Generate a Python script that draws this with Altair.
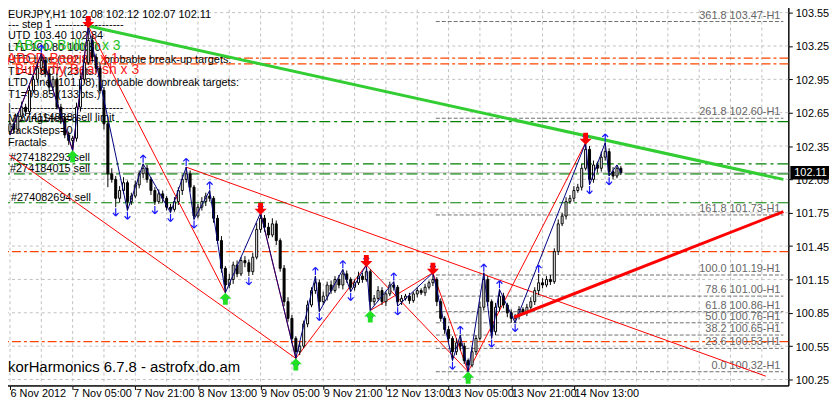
import altair as alt
import pandas as pd

# ---------------- data ----------------
first_open = 102.48
closes = [
    102.55, 102.50, 102.62, 102.70, 102.66, 102.85, 102.95, 103.05, 103.12, 103.00,
    102.88, 102.95, 102.70, 102.60, 102.45, 102.40, 102.42, 102.70, 102.95, 103.10,
    103.30, 103.15, 103.05, 102.85, 102.55, 102.10, 102.05, 101.88, 101.95, 102.02,
    101.85, 101.90, 102.00, 102.10, 102.15, 102.05, 101.95, 101.85, 101.92, 101.88,
    101.80, 101.78, 101.85, 101.95, 102.05, 102.10, 101.98, 101.72, 101.80, 101.85,
    101.90, 101.88, 101.70, 101.50, 101.25, 101.10, 101.15, 101.28, 101.20, 101.32,
    101.30, 101.22, 101.35, 101.60, 101.70, 101.62, 101.55, 101.65, 101.50, 101.25,
    100.95, 100.80, 100.62, 100.50, 100.55, 100.75, 100.92, 101.05, 101.12, 100.95,
    101.00, 101.10, 101.05, 101.15, 101.10, 101.20, 101.15, 101.08, 101.12, 101.18,
    101.15, 101.22, 100.95, 100.98, 101.05, 100.95, 101.02, 101.10, 101.08, 100.95,
    100.98, 101.00, 100.96, 101.02, 101.05, 101.03, 101.08, 101.12, 101.15, 100.95,
    100.80, 100.70, 100.62, 100.50, 100.58, 100.55, 100.42, 100.38, 100.50, 100.62,
    100.90, 101.15, 100.95, 100.68, 100.90, 101.00, 100.92, 100.85, 100.80, 100.82,
    100.88, 100.85, 100.90, 100.95, 101.05, 101.12, 101.10, 101.15, 101.13, 101.40,
    101.65, 101.72, 101.85, 101.88, 101.95, 101.98, 102.15, 102.32, 102.05, 102.18,
    102.15, 102.25, 102.30, 102.12, 102.08, 102.15, 102.11]
upper_wick_pips = [
    3, 4, 3, 5, 3, 4, 3, 4, 6, 3,
    4, 3, 5, 3, 4, 3, 2, 4, 3, 5,
    13, 4, 3, 4, 3, 2, 5, 3, 4, 5,
    2, 3, 4, 3, 4, 3, 2, 3, 4, 3,
    2, 3, 4, 3, 4, 6, 3, 2, 3, 4,
    3, 5, 2, 3, 4, 2, 5, 3, 4, 3,
    4, 3, 4, 6, 5, 3, 4, 5, 3, 2,
    3, 4, 3, 2, 4, 3, 4, 3, 6, 3,
    4, 3, 4, 3, 4, 4, 3, 2, 3, 4,
    3, 6, 2, 3, 4, 3, 2, 3, 3, 2,
    3, 2, 3, 2, 3, 2, 3, 2, 6, 2,
    3, 2, 3, 2, 4, 7, 3, 2, 4, 3,
    5, 6, 3, 2, 4, 6, 3, 2, 3, 2,
    3, 2, 3, 4, 3, 8, 4, 3, 4, 3,
    4, 3, 4, 3, 4, 3, 4, 6, 3, 4,
    3, 5, 8, 3, 4, 3, 2]
lower_wick_pips = [
    3, 4, 3, 2, 4, 3, 2, 3, 4, 3,
    4, 3, 2, 4, 3, 4, 9, 3, 4, 3,
    2, 3, 4, 3, 5, 12, 3, 8, 4, 3,
    8, 3, 2, 3, 4, 3, 4, 3, 2, 4,
    3, 3, 2, 3, 4, 3, 4, 3, 2, 3,
    4, 3, 4, 3, 4, 7, 3, 4, 3, 2,
    4, 4, 3, 2, 3, 4, 3, 2, 4, 3,
    4, 3, 4, 6, 3, 2, 3, 2, 3, 9,
    3, 4, 3, 2, 3, 4, 3, 4, 3, 2,
    3, 2, 8, 3, 2, 3, 4, 2, 3, 4,
    3, 2, 3, 2, 3, 2, 3, 2, 3, 4,
    3, 4, 3, 8, 3, 4, 3, 6, 2, 3,
    2, 3, 4, 6, 3, 4, 3, 4, 4, 4,
    3, 2, 3, 2, 3, 4, 3, 2, 3, 2,
    3, 2, 3, 2, 3, 2, 3, 2, 5, 3,
    4, 3, 3, 4, 3, 2, 2]

time_labels = ["6 Nov 2012", "7 Nov 05:00", "7 Nov 21:00", "8 Nov 13:00", "9 Nov 05:00",
               "9 Nov 21:00", "12 Nov 13:00", "13 Nov 05:00", "13 Nov 21:00", "14 Nov 13:00"]
time_label_bars = [0, 16, 32, 48, 64, 80, 96, 112, 128, 144]
grid_bars = [0, 8, 16, 24, 32, 40, 48, 56, 64, 72, 80, 88, 96, 104, 112, 120, 128,
             136, 144, 152, 160, 168, 176, 184, 192]
price_ticks = [103.55, 103.25, 102.95, 102.65, 102.35, 102.05, 101.75, 101.45,
               101.15, 100.85, 100.55, 100.25]

zigzag_bars = [0, 8, 16, 20, 30, 34, 41, 45, 47, 51, 55, 64, 73, 78, 79, 85, 87, 91, 92,
               98, 99, 108, 113, 115, 117, 121, 123, 125, 129, 147, 148, 152, 153, 155, 156]
zigzag_prices = [102.45, 103.18, 102.31, 103.43, 101.77, 102.19, 101.75, 102.16, 101.69,
                 101.95, 101.03, 101.75, 100.44, 101.18, 100.86, 101.24, 101.04, 101.28,
                 100.87, 101.13, 100.91, 101.21, 100.42, 100.65, 100.32, 101.21, 100.62,
                 101.06, 100.76, 102.38, 102.00, 102.38, 102.08, 102.18, 102.11]

red_seg_bar1 = [0, 8, 16, 20, 64, 73, 91, 92, 108, 117, -0.25, 45]
red_seg_p1 = [102.45, 103.18, 102.31, 103.43, 101.75, 100.44, 101.28, 100.87, 101.21, 100.32, 102.27, 102.16]
red_seg_bar2 = [8, 16, 20, 55, 73, 91, 117, 108, 117, 147, 73, 193]
red_seg_p2 = [103.18, 102.31, 103.43, 101.03, 100.44, 101.28, 100.32, 101.21, 100.32, 102.38, 100.44, 100.28]

green_trend_bars = [20, 197.5]
green_trend_prices = [103.43, 102.05]
red_trend_bars = [128.75, 197.5]
red_trend_prices = [100.81, 101.76]

orange_levels = [103.14, 103.09, 101.40, 100.59]
green_levels = [102.57, 102.19, 102.10, 101.84]
fib_ratios = ["361.8", "261.8", "161.8", "100.0", "78.6", "61.8", "50.0", "38.2", "23.6", "0.0"]
fib_prices = [103.47, 102.60, 101.73, 101.19, 101.00, 100.86, 100.76, 100.65, 100.53, 100.32]
fib_start_bar = 108.75
current_price = 102.11

sell_arrow_bars = [20, 64, 91, 108, 147]
buy_arrow_bars = [16, 55, 73, 92, 117]
up_fractal_bars = [8, 20, 34, 45, 51, 64, 78, 85, 91, 98, 108, 115, 121, 125, 135, 147, 152]
down_fractal_bars = [16, 27, 30, 37, 41, 47, 55, 61, 73, 79, 87, 92, 99, 113, 117, 123, 129, 148, 153]

info_lines = ["EURJPY,H1  102.08 102.12 102.07 102.11",
              "---    step 1    -------------------",
              "UTD 103.40   102.84",
              "LTD  100.80   100.80",
              "UTD Line (102.84), probable break-up targets:",
              "T1=103.07 (23pts.)",
              "LTD Line (101.08), probable downbreak targets:",
              "T1=99.85 (133pts.)",
              "|-------------------------------",
              "MovingStep=8",
              "BackSteps=0",
              "Fractals"]
order_lines = ["#274114868 sell limit", "#274182293 sell", "#274184015 sell", "#274082694 sell"]
pattern_lines = ["ABCD Bullish x 3", "ABCD Bearish x 1", "Butterfly Bearish x 3"]
footer_text = "korHarmonics 6.7.8 - astrofx.do.am"

# ---------------- build tables ----------------
opens = [first_open] + closes[:-1]
highs = [round(max(o, c) + u / 100, 2) for o, c, u in zip(opens, closes, upper_wick_pips)]
lows = [round(min(o, c) - l / 100, 2) for o, c, l in zip(opens, closes, lower_wick_pips)]
candles = pd.DataFrame({
    "i": list(range(len(closes))), "open": opens, "close": closes,
    "high": highs, "low": lows,
    "dir": ["up" if c >= o else "down" for o, c in zip(opens, closes)],
})

W, H = 791, 385
X_END = 197.5
FONT = "'Liberation Sans Narrow', 'Liberation Sans', Arial, sans-serif"

xs = alt.Scale(domain=[-0.25, X_END], nice=False, zero=False)
ys = alt.Scale(domain=[100.1965, 103.6303], nice=False, zero=False)
labels_js = "[" + ",".join("'%s'" % t for t in time_labels) + "]"
x_axis = alt.Axis(values=time_label_bars, labelExpr=labels_js + "[round(datum.value/16)]",
                  title=None, grid=False, orient="bottom", tickSize=4, tickColor="black",
                  domainColor="black", labelAlign="left", labelBaseline="alphabetic",
                  labelPadding=7,
                  labelFont=FONT, labelFontSize=11, labelColor="black", labelOverlap=False,
                  labelFlush=False, labelBound=False)
y_axis = alt.Axis(orient="right", values=price_ticks, format=".2f", title=None, grid=False,
                  tickSize=4, tickColor="black", domainColor="black", labelPadding=3,
                  labelOffset=1,
                  labelFont=FONT, labelFontSize=11, labelColor="black", labelOverlap=False,
                  labelFlush=False, labelBound=False)


def xq(f):
    return alt.X(f + ":Q", scale=xs, axis=x_axis)


def yq(f):
    return alt.Y(f + ":Q", scale=ys, axis=y_axis)


layers = []
# grid
layers.append(alt.Chart(pd.DataFrame({"b": grid_bars})).mark_rule(
    color="#C0C0C0", strokeDash=[3, 3], strokeWidth=1).encode(x=xq("b")))
layers.append(alt.Chart(pd.DataFrame({"p": price_ticks})).mark_rule(
    color="#C0C0C0", strokeDash=[3, 3], strokeWidth=1).encode(y=yq("p")))
# horizontal levels
layers.append(alt.Chart(pd.DataFrame({"p": orange_levels})).mark_rule(
    color="#FF4500", strokeDash=[9, 3, 3, 3], strokeWidth=1.3).encode(y=yq("p")))
layers.append(alt.Chart(pd.DataFrame({"p": green_levels})).mark_rule(
    color="#008000", strokeDash=[11, 4, 3, 4], strokeWidth=1.2).encode(y=yq("p")))
# fibonacci
fib_df = pd.DataFrame({"p": fib_prices, "b0": [fib_start_bar] * len(fib_prices),
                       "b1": [X_END] * len(fib_prices),
                       "t": ["%s %.2f-H1" % (r, p) for r, p in zip(fib_ratios, fib_prices)]})
layers.append(alt.Chart(fib_df).mark_rule(color="#6E6E6E", strokeDash=[4, 2], strokeWidth=1).encode(
    x=xq("b0"), x2="b1:Q", y=yq("p")))
layers.append(alt.Chart(fib_df).mark_text(align="right", baseline="bottom", dx=-3, dy=-1,
                                          font=FONT, fontSize=11, color="#666666").encode(
    x=xq("b1"), y=yq("p"), text="t:N"))
# current price line
layers.append(alt.Chart(pd.DataFrame({"p": [current_price]})).mark_rule(
    color="#C0C0C0", strokeWidth=1).encode(y=yq("p")))

# texts
one = pd.DataFrame({"k": [0]})


def txt(s, x, y, color="black", size=11):
    return alt.Chart(one).mark_text(align="left", baseline="middle", font=FONT, fontSize=size,
                                    color=color).encode(x=alt.value(x), y=alt.value(y),
                                                        text=alt.value(s))


info_y = [11, 21, 32.5, 44.5, 57, 68.5, 80, 92.5, 105, 116, 128, 141]
for s, y in zip(info_lines, info_y):
    layers.append(txt(s, 4, y))
for s, (x, y) in zip(order_lines, [(9, 115), (6, 156), (6, 167), (7, 196)]):
    layers.append(txt(s, x, y))
for s, (x, y, c) in zip(pattern_lines, [(11, 43, "#22C022"), (3, 56, "#FF2020"), (11, 67, "#FF2020")]):
    layers.append(txt(s, x, y, color=c, size=14))
layers.append(txt(footer_text, 4, 366, size=15))

# thin red lines
seg_df = pd.DataFrame({"b1": red_seg_bar1, "p1": red_seg_p1, "b2": red_seg_bar2, "p2": red_seg_p2})
layers.append(alt.Chart(seg_df).mark_rule(color="#FF0000", strokeWidth=1).encode(
    x=xq("b1"), y=yq("p1"), x2="b2:Q", y2="p2:Q"))

# candles
layers.append(alt.Chart(candles).mark_rule(color="black", strokeWidth=1).encode(
    x=xq("i"), y=yq("low"), y2="high:Q"))
layers.append(alt.Chart(candles).mark_bar(size=2, stroke="black", strokeWidth=1).encode(
    x=xq("i"), y=yq("open"), y2="close:Q",
    color=alt.Color("dir:N", scale=alt.Scale(domain=["up", "down"], range=["white", "black"]),
                    legend=None)))

# zigzag
layers.append(alt.Chart(pd.DataFrame({"b": zigzag_bars, "p": zigzag_prices})).mark_line(
    color="#000080", strokeWidth=1).encode(x=xq("b"), y=yq("p")))

# thick trend lines
layers.append(alt.Chart(pd.DataFrame({"b": green_trend_bars, "p": green_trend_prices})).mark_line(
    color="#32CD32", strokeWidth=3).encode(x=xq("b"), y=yq("p")))
layers.append(alt.Chart(pd.DataFrame({"b": red_trend_bars, "p": red_trend_prices})).mark_line(
    color="#FF0000", strokeWidth=3).encode(x=xq("b"), y=yq("p")))

# arrows
DOWN_ARROW = "M-0.4,-1L0.4,-1L0.4,0L1,0L0,1L-1,0L-0.4,0Z"
UP_ARROW = "M0,-1L1,0L0.4,0L0.4,1L-0.4,1L-0.4,0L-1,0Z"
FR_UP = "M0,-1L-0.75,-0.2M0,-1L0.75,-0.2M0,-1L0,1"
FR_DOWN = "M0,1L-0.75,0.2M0,1L0.75,0.2M0,1L0,-1"
sell_df = candles[candles["i"].isin(sell_arrow_bars)]
buy_df = candles[candles["i"].isin(buy_arrow_bars)]
upf_df = candles[candles["i"].isin(up_fractal_bars)]
dnf_df = candles[candles["i"].isin(down_fractal_bars)]
layers.append(alt.Chart(upf_df).mark_point(shape=FR_UP, size=60, filled=False, color="#1A1AFF",
                                           strokeWidth=1.2, opacity=1, yOffset=-5).encode(
    x=xq("i"), y=yq("high")))
layers.append(alt.Chart(dnf_df).mark_point(shape=FR_DOWN, size=60, filled=False, color="#1A1AFF",
                                           strokeWidth=1.2, opacity=1, yOffset=5).encode(
    x=xq("i"), y=yq("low")))
layers.append(alt.Chart(sell_df).mark_point(shape=DOWN_ARROW, size=150, filled=True, color="#FF0000",
                                            opacity=1, yOffset=-4).encode(x=xq("i"), y=yq("high")))
layers.append(alt.Chart(buy_df).mark_point(shape=UP_ARROW, size=150, filled=True, color="#22E022",
                                           opacity=1, yOffset=6).encode(x=xq("i"), y=yq("low")))

# price tag on the axis
tag = pd.DataFrame({"p": [current_price], "t": ["%.2f" % current_price]})
layers.append(alt.Chart(tag).mark_point(shape="M-1,-0.34L1,-0.34L1,0.34L-1,0.34Z", size=1600,
                                        filled=True, color="black", opacity=1).encode(
    x=alt.value(W + 22), y=yq("p")))
layers.append(alt.Chart(tag).mark_text(align="left", baseline="middle", font=FONT, fontSize=11,
                                       color="white").encode(x=alt.value(W + 6), y=yq("p"), text="t:N"))

chart = alt.layer(*layers).properties(
    width=W, height=H,
    padding={"left": -4, "top": -6, "right": 41, "bottom": 12},
    autosize=alt.AutoSizeParams(type="none"),
    background="white",
).configure_view(stroke="black", strokeWidth=1)

chart.save("out.html", embed_options={"renderer": "svg", "actions": False})
